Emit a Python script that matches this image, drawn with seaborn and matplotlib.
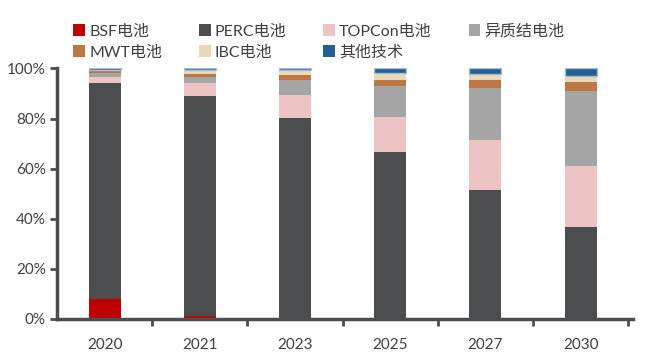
import numpy as np
import pandas as pd
import matplotlib
matplotlib.use('Agg')
import matplotlib.pyplot as plt
import matplotlib.patches as mpatches
import seaborn as sns

years = ['2020', '2021', '2023', '2025', '2027', '2030']
series = ['BSF电池', 'PERC电池', 'TOPCon电池', '异质结电池', 'MWT电池', 'IBC电池', '其他技术']
bsf = [8.0, 1.2, 0.0, 0.0, 0.0, 0.0]
perc = [86.4, 87.8, 80.2, 66.6, 51.6, 36.9]
topcon = [2.2, 5.2, 9.1, 14.1, 19.7, 24.0]
hjt = [1.8, 2.3, 6.1, 12.3, 21.1, 30.1]
mwt = [0.8, 1.3, 2.1, 2.4, 2.9, 3.7]
ibc = [0.3, 1.7, 2.0, 2.7, 2.4, 2.4]
other = [0.5, 0.5, 0.5, 1.9, 2.3, 2.9]
colors = ['#C00000', '#4B4D4F', '#EBC4C3', '#A5A5A5', '#BD7744', '#E9D9B9', '#235F94']

sns.set_style('white')
plt.rcParams['font.family'] = ['Lato', 'Noto Sans CJK SC', 'DejaVu Sans']

df = pd.DataFrame({'year': years, 'BSF电池': bsf, 'PERC电池': perc, 'TOPCon电池': topcon,
                   '异质结电池': hjt, 'MWT电池': mwt, 'IBC电池': ibc, '其他技术': other})
cum = df[series].cumsum(axis=1)

fig = plt.figure(figsize=(6.53, 3.54), dpi=100)
ax = fig.add_axes([0.0873, 0.0989, 0.882, 0.7076])

# draw cumulative totals from the top layer down so each layer overlaps the next
for i in range(len(series) - 1, -1, -1):
    name = series[i]
    sns.barplot(x=df['year'], y=cum[name], order=years, color=colors[i], width=0.335,
                saturation=1, edgecolor='none', linewidth=0, ax=ax)

# top "其他技术" segment gets Excel-like light border, drawn on its own segment only
sns.barplot(x=df['year'], y=df['其他技术'], order=years, color=colors[-1], width=0.335,
            saturation=1, edgecolor='#A9BCD2', linewidth=1.0, ax=ax)
for rect, base in zip(ax.containers[-1], cum['IBC电池']):
    rect.set_y(base)

ax.set_ylim(0, 100)
ax.set_xlim(-0.5, 5.55)
ax.set_yticks(np.arange(0, 101, 20))
ax.set_yticklabels([f'{v}%' for v in range(0, 101, 20)])
ax.set_xticks(range(len(years)))
ax.set_xticklabels(years)
ax.set_xticks(np.arange(0.5, 6, 1), minor=True)
ax.set_xlabel('')
ax.set_ylabel('')

for s in ['top', 'right']:
    ax.spines[s].set_visible(False)
for s in ['left', 'bottom']:
    ax.spines[s].set_color('#4B4D4F')
    ax.spines[s].set_linewidth(2.5)
ax.tick_params(axis='x', which='major', length=0, pad=14, labelsize=11, labelcolor='#404040')
ax.tick_params(axis='x', which='minor', length=5, width=2, color='#4B4D4F', direction='out', bottom=True)
ax.tick_params(axis='y', length=5, width=2, color='#4B4D4F', direction='out', left=True,
               labelsize=11, labelcolor='#404040', pad=3)

# legend fills column-wise; order so rows read BSF, PERC, TOPCon, 异质结 / MWT, IBC, 其他
handles = {n: mpatches.Patch(facecolor=c, edgecolor='none', label=n) for n, c in zip(series, colors)}
leg_order = ['BSF电池', 'MWT电池', 'PERC电池', 'IBC电池', 'TOPCon电池', '其他技术', '异质结电池']
fig.legend(handles=[handles[n] for n in leg_order], ncol=4, loc='upper left',
           bbox_to_anchor=(0.09, 0.972), frameon=False, fontsize=11.5, handlelength=0.75,
           handleheight=0.75, handletextpad=0.25, columnspacing=2.3, labelspacing=0.4,
           labelcolor='#404040')

fig.savefig('out.png', dpi=100)
